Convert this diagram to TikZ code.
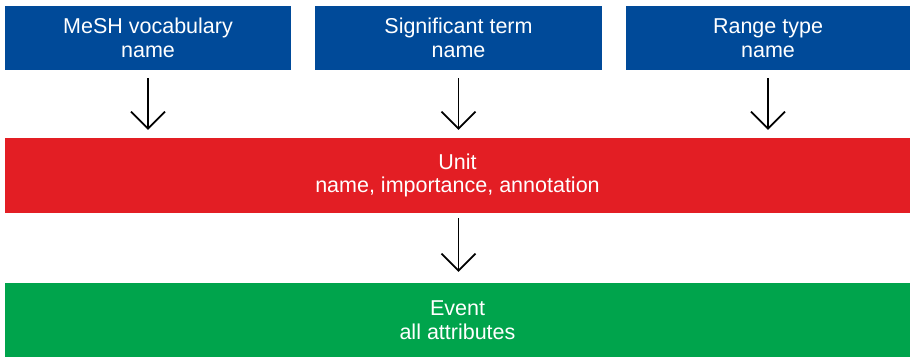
\documentclass[tikz,border=0pt]{standalone}
\usepackage{fontspec}
\setmainfont{Liberation Sans}
\usetikzlibrary{arrows.meta}
\definecolor{meshblue}{RGB}{0,74,153}
\definecolor{unitred}{RGB}{227,30,36}
\definecolor{eventgreen}{RGB}{0,164,76}
\tikzset{
	whitetext/.style={font=\fontsize{21.5}{23.5}\selectfont, text=white}
}

\begin{document}
\begin{tikzpicture}[x=1pt, y=-1pt, >={Straight Barb[length=17pt, width=34pt]},
    box/.style={whitetext, inner sep=0pt, align=center, minimum height=64pt}]
      \useasboundingbox (0,0) rectangle (910,357);
      \node[box, fill=meshblue, minimum width=286pt] (mesh) at (148,38) {MeSH vocabulary\\ name};
      \node[box, fill=meshblue, minimum width=287pt] (term) at (458.5,38) {Significant term\\ name};
      \node[box, fill=meshblue, minimum width=284pt] (range) at (768,38) {Range type\\ name};
      \node[box, fill=unitred, minimum width=905pt, minimum height=75pt] (unit) at (457.5,175.5) {Unit\\ name, importance, annotation};
      \node[box, fill=eventgreen, minimum width=905pt, minimum height=74pt] (event) at (457.5,320) {Event\\ all attributes};

      \draw[line width=1.7pt, ->, shorten <=8pt, shorten >=8pt] (mesh.south) -- (mesh.south |- unit.north);
      \draw[line width=1.7pt, ->, shorten <=8pt, shorten >=8pt] (term.south) -- (term.south |- unit.north);
      \draw[line width=1.7pt, ->, shorten <=8pt, shorten >=8pt] (range.south) -- (range.south |- unit.north);
      % unit feeds the event
      \draw[line width=1.7pt, ->, shorten <=5pt, shorten >=11pt] (unit.south -| term.south) -- (term.south |- event.north);
    \end{tikzpicture}
\end{document}
